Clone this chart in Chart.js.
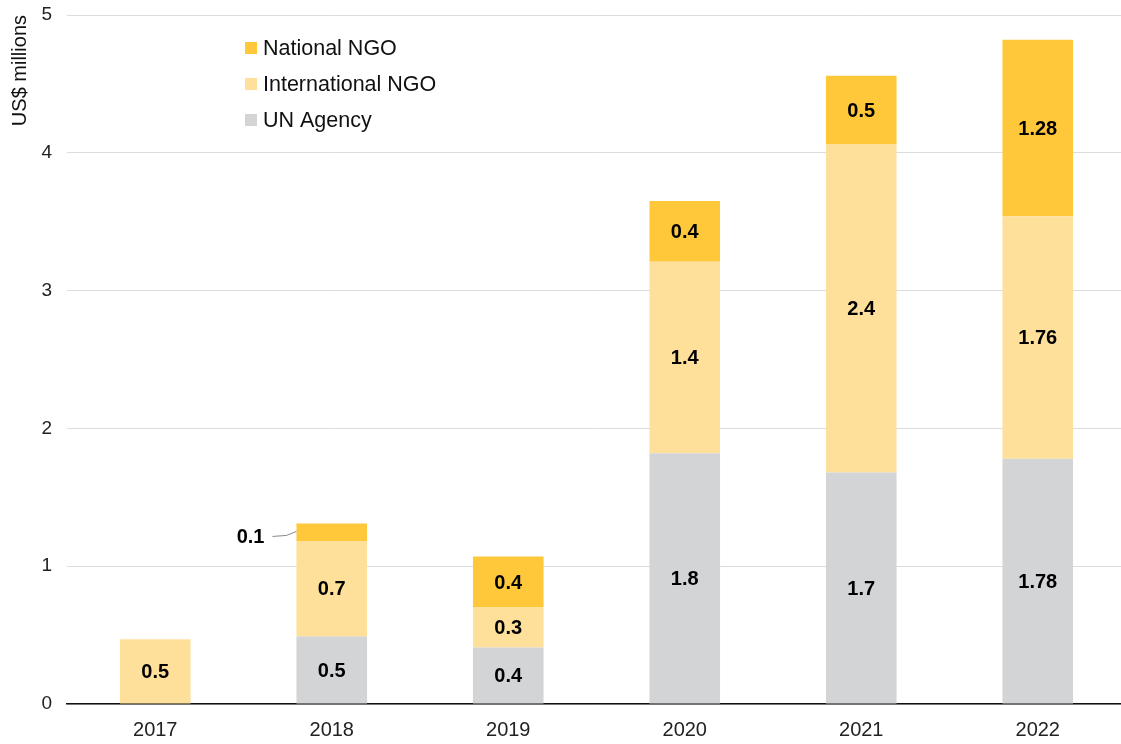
<!DOCTYPE html>
<html>
<head>
<meta charset="utf-8">
<script src="https://cdn.jsdelivr.net/npm/chart.js@4"></script>
<style>
html,body{margin:0;padding:0;background:#fff;overflow:hidden;}
#wrap{width:1121px;height:744px;position:relative;overflow:hidden;}
canvas{display:block;}
</style>
</head>
<body>
<div id="wrap"><canvas id="c" width="1126" height="744"></canvas></div>
<script>
const categories = ['2017','2018','2019','2020','2021','2022'];
const unAgency = [null, 0.49, 0.41, 1.82, 1.68, 1.78];
const intlNgo = [0.47, 0.69, 0.29, 1.39, 2.38, 1.76];
const natNgo = [null, 0.13, 0.37, 0.44, 0.50, 1.28];
const unLabels = ['', '0.5', '0.4', '1.8', '1.7', '1.78'];
const intlLabels = ['0.5', '0.7', '0.3', '1.4', '2.4', '1.76'];
const natLabels = ['', '0.1', '0.4', '0.4', '0.5', '1.28'];
const yTicks = [0, 1, 2, 3, 4, 5];

const FONT = '"Liberation Sans", Arial, Helvetica, sans-serif';
const colors = { un: '#d3d4d6', intl: '#fee09a', nat: '#ffc83a' };

const labelPlugin = {
  id: 'segLabels',
  afterDatasetsDraw(chart) {
    const ctx = chart.ctx;
    const sets = [unLabels, intlLabels, natLabels];
    ctx.save();
    ctx.font = 'bold 20px ' + FONT;
    ctx.fillStyle = '#000';
    ctx.textBaseline = 'middle';
    chart.data.datasets.forEach((ds, di) => {
      const meta = chart.getDatasetMeta(di);
      meta.data.forEach((el, i) => {
        const txt = sets[di][i];
        if (!txt || ds.data[i] == null) return;
        const top = Math.min(el.y, el.base), bot = Math.max(el.y, el.base);
        const h = bot - top;
        const cy = (top + bot) / 2;
        if (h < 24) {
          const left = el.x - el.width / 2;
          ctx.textAlign = 'right';
          ctx.fillText(txt, left - 32, cy + 5);
          ctx.strokeStyle = '#888';
          ctx.lineWidth = 1;
          ctx.beginPath();
          ctx.moveTo(left - 24, cy + 4);
          ctx.lineTo(left - 10, cy + 3);
          ctx.lineTo(left, cy - 1);
          ctx.stroke();
        } else {
          ctx.textAlign = 'center';
          ctx.fillText(txt, el.x, cy + 1);
        }
      });
    });
    ctx.restore();
  }
};

const legendPlugin = {
  id: 'inLegend',
  afterDraw(chart) {
    const ctx = chart.ctx;
    const items = [['National NGO', colors.nat], ['International NGO', colors.intl], ['UN Agency', colors.un]];
    ctx.save();
    ctx.font = '21.5px ' + FONT;
    ctx.textBaseline = 'middle';
    ctx.textAlign = 'left';
    items.forEach((it, k) => {
      const y = 48 + k * 36;
      ctx.fillStyle = it[1];
      ctx.fillRect(245, y - 6, 12, 12);
      ctx.fillStyle = '#111';
      ctx.fillText(it[0], 263, y + 1);
    });
    ctx.restore();
  }
};

new Chart(document.getElementById('c'), {
  type: 'bar',
  data: {
    labels: categories,
    datasets: [
      { label: 'UN Agency', data: unAgency, backgroundColor: colors.un },
      { label: 'International NGO', data: intlNgo, backgroundColor: colors.intl },
      { label: 'National NGO', data: natNgo, backgroundColor: colors.nat }
    ]
  },
  options: {
    responsive: false,
    animation: false,
    layout: { padding: { top: 15, right: 0, left: 0, bottom: 0 } },
    plugins: { legend: { display: false }, tooltip: { enabled: false } },
    datasets: { bar: { barPercentage: 0.4, categoryPercentage: 1.0 } },
    scales: {
      x: {
        stacked: true,
        afterFit(scale) { scale.height = 40; scale.paddingRight = 0; scale.paddingLeft = 0; },
        grid: { display: false, drawTicks: false },
        border: { display: true, color: '#111', width: 1.5 },
        ticks: { color: '#222', font: { family: FONT, size: 20 }, padding: 14 }
      },
      y: {
        stacked: true,
        min: 0, max: 5,
        afterBuildTicks(scale) { scale.ticks = yTicks.map(v => ({ value: v })); },
        afterFit(scale) { scale.width = 67; scale.paddingTop = 0; scale.paddingBottom = 0; },
        grid: { color: '#dcdcdc', lineWidth: 1, drawTicks: false },
        border: { display: false },
        ticks: { color: '#222', font: { family: FONT, size: 19 }, padding: 15 },
        title: { display: true, text: 'US$ millions', align: 'end', color: '#111', font: { family: FONT, size: 20 }, padding: { top: 8, bottom: 2 } }
      }
    }
  },
  plugins: [labelPlugin, legendPlugin]
});
</script>
</body>
</html>
